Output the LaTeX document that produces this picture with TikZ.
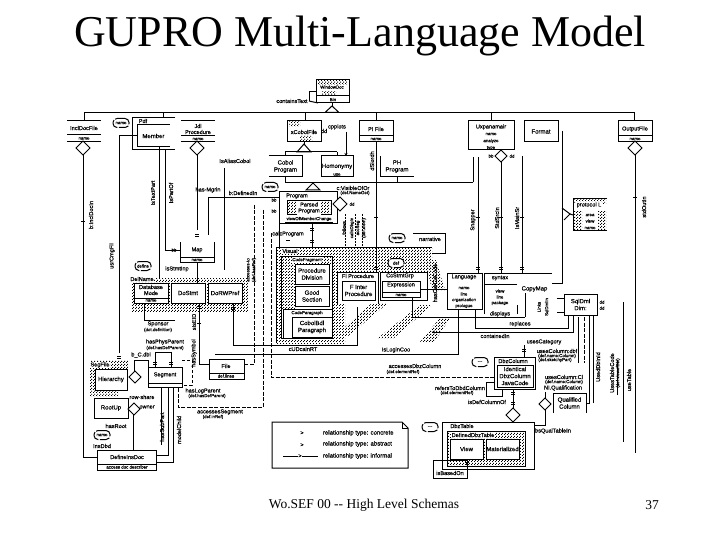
\documentclass[tikz,border=0pt]{standalone}
\usepackage{fontspec}
\setmainfont{Liberation Serif}
\newfontfamily\smallsans[FakeBold=0.35]{Liberation Sans}
\usetikzlibrary{arrows.meta,patterns,calc}
\pgfdeclarepatternformonly{stip}{\pgfpointorigin}{\pgfqpoint{3pt}{3pt}}{\pgfqpoint{3pt}{3pt}}{%
 \pgfpathrectangle{\pgfqpoint{0pt}{0pt}}{\pgfqpoint{1.1pt}{1.1pt}}%
 \pgfpathrectangle{\pgfqpoint{1.5pt}{1.5pt}}{\pgfqpoint{1.1pt}{1.1pt}}\pgfusepath{fill}}
\newcounter{lblc}
\tikzset{
 x=1pt,y=-1pt,
 boxst/.style={draw,line width=1pt,fill=white,inner sep=0pt,outer sep=0pt,align=center,font=\smallsans\fontsize{6}{7}\selectfont},
 txt/.style={inner sep=0pt,outer sep=0pt,align=center,font=\smallsans\fontsize{5.6}{6}\selectfont},
 tinytxt/.style={txt,font=\smallsans\fontsize{4.4}{5}\selectfont},
 conn/.style={line width=1pt},
 dashln/.style={line width=1pt,dash pattern=on 4pt off 1.5pt},
 tipped/.style={line width=1pt,-{Stealth[length=3pt,width=3pt]}},
 stipple/.style={pattern=stip,pattern color=black},
 blob/.style={draw,line width=1pt,fill=white,rounded corners=4pt,minimum width=16pt,minimum height=9pt,inner sep=0pt,outer sep=0pt,font=\smallsans\fontsize{4.4}{5}\selectfont,dash pattern=on 10pt off 1.5pt},
 dia/.style={line width=1pt,fill=white},
}
\newcommand\nbx[7][]{\node[boxst,minimum width={(#5-#3)*1pt},minimum height={(#6-#4)*1pt},#1] (#2) at ({(#3+#5)/2},{(#4+#6)/2}) {#7};}
\newcommand\lbl[3]{\stepcounter{lblc}\node[txt] (t\thelblc) at (#1,#2) {#3};}
\newcommand\tin[3]{\stepcounter{lblc}\node[tinytxt] (t\thelblc) at (#1,#2) {#3};}
\newcommand\rlb[3]{\stepcounter{lblc}\node[txt,rotate=90] (t\thelblc) at (#1,#2) {#3};}
\newcommand\rtn[3]{\stepcounter{lblc}\node[tinytxt,rotate=90] (t\thelblc) at (#1,#2) {#3};}
\newcommand\rowl[2]{\draw[conn] (#1.west |- 0,#2) -- (#1.east |- 0,#2);}
\newcommand\diam[3]{\draw[dia] (#1,#2-#3) -- (#1+#3,#2) -- (#1,#2+#3) -- (#1-#3,#2) -- cycle;}
\newcommand\trig[3]{\draw[dia] (#1,#2) -- (#1+7,#3) -- (#1-7,#3) -- cycle;}
\newcommand\tkh[2]{\draw[conn] (#1-2,#2) -- (#1+2,#2);}
\newcommand\dtk[2]{\draw[conn] (#1-2,#2-1) -- (#1+2,#2-1) (#1-2,#2+1) -- (#1+2,#2+1);}
\begin{document}
\begin{tikzpicture}
\useasboundingbox (0,0) rectangle (720,540);
\fill[white] (0,0) rectangle (720,540);
\node[inner sep=0pt,font=\fontsize{44}{48}\selectfont] (title) at (360,36) {GUPRO Multi-Language Model};
\node[inner sep=0pt,font=\fontsize{13.5}{15}\selectfont] (foot) at (364,505) {Wo.SEF 00 {-}{-} High Level Schemas};
\node[inner sep=0pt,font=\fontsize{13.5}{15}\selectfont] (page) at (652,505) {37};

% stipple areas
\fill[stipple] (132,278) rectangle (248,311);
\fill[stipple] (90,360) rectangle (128,390);
\fill[stipple] (90,390) rectangle (118,396);
\fill[stipple] (276,247) rectangle (345,343);
\fill[stipple] (345,247) rectangle (432,272);
\fill[stipple] (335,336) -- (348,336) -- (388,303) -- (372,303) -- cycle;
\fill[stipple] (378,338) -- (394,338) -- (432,305) -- (420,305) -- cycle;
\fill[stipple] (420,342) -- (434,342) -- (450,318) -- (440,318) -- cycle;
\fill[stipple] (425,260) -- (436,260) -- (445,290) -- (432,290) -- cycle;

% main bus
\coordinate (busL) at (84,112.5); \coordinate (busR) at (634,112.5);
\draw[conn] (busL) -- (busR);

% top box
\nbx{winbox}{316}{80}{349}{103}{}
\fill[stipple] (318,81) rectangle (347,85);
\fill[stipple] (322,92) rectangle (336,95);
\tin{332}{87}{WindowDoc}
\tin{333}{99.5}{Bin}
\rowl{winbox}{96}
\trig{332}{106}{112.5}
\draw[conn] (winbox.south) -- ++(0,3);
\lbl{292}{101}{containsText}
\coordinate (cta) at (309,101);
\coordinate (ctb) at (309,92);
\draw[conn] (cta) -- (ctb) -- (winbox.west |- ctb);
\draw[conn] (cta) -- (318,103);

% row of file boxes
\nbx[draw=none]{incl}{67}{121}{101}{142}{}
\lbl{84}{128}{InclDocFile}
\draw[conn] (incl.north west) -- (incl.north east) (incl.south west) -- (incl.south east);
\rowl{incl}{135}
\tin{84}{138.5}{name}
\draw[conn] (busL) -- (incl.north -| busL);
\diam{83}{148}{7}

\nbx[draw=none]{pdf}{132}{118}{175}{150}{}
\draw[conn] (pdf.north east) -- (pdf.north west) -- (pdf.south west) -- (pdf.south east);
\lbl{143}{121}{Pdf}
\nbx[draw=none]{member}{137}{125}{170}{147}{Member}
\draw[conn] (member.north east) -- (member.north west) -- (member.south west) -- (member.south east);
\coordinate (pdfbus) at (163,112.5);
\draw[conn] (pdfbus) -- (pdfbus |- pdf.north);
\node[blob] (pdfname) at (121,123) {name};

\nbx[draw=none]{jdl}{181}{121}{215}{142}{}
\lbl{198}{129}{Jdl\\Procedure}
\draw[conn] (jdl.north west) -- (jdl.north east) (jdl.south west) -- (jdl.south east);
\rowl{jdl}{136}
\tin{198}{139}{name}
\diam{197}{148}{7}

\nbx{cobf}{287}{121}{321}{142}{}
\fill[stipple] (289,122) rectangle (300,127);
\fill[stipple] (300,136) rectangle (312,141);
\lbl{304}{132}{xCobolFile}
\coordinate (cobbus) at (305,112.5);
\draw[conn] (cobbus) -- (cobf.north -| cobbus);
\trig{304}{144}{152}
\coordinate (b2l) at (285,152); \coordinate (b2r) at (337,152);
\draw[conn] (b2l) -- (b2r) (304,144) -- (304,142);
\draw[conn] (b2l) -- ++(0,4) (b2r) -- ++(0,4);
\nbx[draw=none]{cobprog}{269}{156}{302}{177}{Cobol\\Program}
\draw[conn] (cobprog.north west) -- (cobprog.north east) -- (cobprog.south east) -- (cobprog.south west);
\nbx[draw=none]{homon}{321}{156}{353}{177}{Homonymy}
\draw[conn] (homon.south west) -- (homon.north west) -- (homon.north east) -- (homon.south east);
\draw[conn] (homon.south west) -- (homon.south east);
\tin{337}{174.5}{use}
\lbl{337}{127}{cpplots}
\lbl{324}{131}{dd}
\coordinate (cpa) at (346,132);
\draw[tipped] (cpa) -- (cpa |- homon.north);

\nbx{pifile}{359}{121}{393}{142}{}
\lbl{376}{129}{PI File}
\rowl{pifile}{136}
\tin{376}{139}{name}
\coordinate (pibus) at (376,112.5);
\draw[conn] (pibus) -- (pibus |- pifile.north);
\rlb{372}{161}{dSlordh}

\nbx[draw=none]{piprog}{380}{156}{414}{177}{PH\\Program}
\draw[conn] (piprog.north west) -- (piprog.south west) -- (piprog.south east);

\nbx{lang}{468}{121}{514}{150}{}
\lbl{491}{127}{Uxpanamair}
\tin{491}{134}{name}
\tin{491}{141}{analyze}
\tin{491}{148}{type}
\coordinate (langbus) at (491,112.5);
\draw[conn] (langbus) -- (langbus |- lang.north);
\diam{501}{156}{6}
\tin{491}{156}{bb}\tin{512}{156}{dd}

\nbx{format}{524}{121}{558}{142}{Format}

\nbx{outf}{618}{121}{652}{142}{}
\lbl{635}{129}{OutputFile}
\rowl{outf}{136}
\tin{635}{139}{name}
\draw[conn] (busR) -- (outf.north -| busR);
\diam{635}{148}{7}

% second bus
\coordinate (b3l) at (285,182.5); \coordinate (b3r) at (473,182.5);
\draw[conn] (b3l) -- (b3r);
\draw[conn] (b3l) -- (285,177);
\draw[conn] (b3r) -- (473,157);
\draw[conn] (397,182.5) -- (397,177);
\trig{313}{183}{190}

% program
\nbx{prog}{279}{192}{337}{224}{}
\lbl{297}{196}{Program}
\nbx{parsed}{287}{201}{331}{215}{}
\fill[stipple] (288,202) rectangle (330,214);
\node[txt,fill=white,inner sep=1pt] (parsedt) at (309,208) {Parsed\\Program};
\tin{309}{219}{viewOfMemberChange}
\draw[conn] (285,223) -- (333,223);
\node[blob] (prname) at (270,187) {name};
\diam{340}{204}{7}
\tin{352}{204}{dd}
\lbl{353}{188}{c:VisibleOfOr}
\tin{355}{193}{(def.NameGet)}
\lbl{243}{193}{b:DefinedIn}
\lbl{235}{161}{IsAliasCobol}
\lbl{288}{234}{calcProgram}
\lbl{208}{190}{has-Mgrin}
\tin{274}{200}{bb}\tin{274}{211}{bb}

% visual
\draw[conn] (276,343) -- (276,247) -- (432,247);
\node[txt,fill=white,inner sep=.5pt] (vis) at (290,251) {Visual};
\draw[conn] (312,224) -- (312,247);
\dtk{312}{230}\dtk{312}{241}
\nbx{code}{281}{256}{332}{338}{}
\fill[stipple] (282,257) rectangle (331,264);
\fill[stipple] (282,264) rectangle (295,308);
\node[tinytxt,fill=white,inner sep=.5pt] (codet) at (307,260) {CodeFragment};
\nbx{procdiv}{295}{264}{329}{284}{Procedure\\Division}
\nbx{goodsec}{295}{286}{329}{306}{Good\\Section}
\nbx[fill=none]{codepar}{283}{309}{332}{338}{}
\tin{307}{313}{CodeParagraph}
\nbx{cobpar}{292}{317}{332}{337}{CobolBdl\\Paragraph}
\nbx[draw=none,fill=white]{flproc}{337}{272}{378}{304}{}
\draw[conn] (flproc.north west) -- (flproc.north east) -- (flproc.south east) (flproc.north west) -- (flproc.south west);
\lbl{358}{276}{Fl Procedure}
\nbx{fintern}{342}{281}{375}{300}{F Inter\\Procedure}
\nbx{ccgrp}{380}{272}{427}{300}{}
\lbl{400}{276}{CcStmtGrp}
\nbx{expr}{382}{281}{420}{297}{}
\lbl{401}{285}{Expression}
\rowl{expr}{292}
\tin{401}{295}{name}
\node[blob] (nm2) at (397,238) {name};
\node[blob] (nm3) at (396,263) {def};
\lbl{430}{239}{narrative}
\coordinate (narr) at (413,233);
\coordinate (narrE) at (445,233);
\coordinate (narrS) at (445,253);
\draw[conn] (narr) -- (narrE) -- (narrS) -- (432,253);
\rlb{435}{283}{hasCdrCoCode}
\draw[conn] (expr.east) -- (lang.west |- expr.east);
\coordinate (exS) at (412,317);
\draw[conn] (412,297) -- (exS) -- (525,317);

% language row
\nbx{lg1}{447}{273}{482}{309}{}
\lbl{464}{277}{Language}
\tin{464}{288}{name}
\tin{464}{294}{line}
\tin{464}{300}{organization}
\tin{464}{306}{prologue}
\nbx[draw=none]{lg2}{484}{273}{517}{314}{}
\draw[conn] (lg2.south west) -- (lg2.north west) -- (lg2.north east) -- (lg2.south east);
\lbl{500}{278}{syntax}
\rowl{lg2}{284}
\tin{500}{291}{view}
\tin{500}{297}{line}
\tin{500}{303}{package}
\nbx[draw=none]{cmap}{517}{273}{552}{305}{CopyMap}
\draw[conn] (cmap.north west) -- (cmap.north east);
\lbl{500}{314}{displays}
\draw[conn] (525,293) -- (525,317);

\nbx{sqld}{564}{294}{597}{315}{SqlDml\\Dim:}
\tin{602}{302}{dd}\tin{602}{308}{dd}
\draw[conn] (557,298) -- (sqld.west |- 0,298) (557,312) -- (sqld.west |- 0,312);
\rtn{539}{307}{Links}\rtn{547}{307}{SqlDmlIn}
\lbl{520}{324}{replaces}
\lbl{495}{336}{containedIn}
\coordinate (rA) at (475,328); \coordinate (rB) at (568,328);
\draw[conn] (lg1.south -| rA) -- (rA) -- (rB) -- (rB |- sqld.south);
\coordinate (cA) at (432,332); \coordinate (cB) at (573,332);
\draw[tipped] (cB |- sqld.south) -- (cB) -- (cA);

% long verticals
\draw[conn] (376,142) -- (376,273);
\draw[conn] (478,157) -- (478,273);
\draw[conn] (501,162) -- (501,273);
\draw[conn] (522,156) -- (522,273);
\foreach \xx in {376,478,501,522} {\dtk{\xx}{268}\tkh{\xx}{218}}
\rlb{473}{220}{Snapper}\rlb{497}{218}{StdSrcIn}\rlb{517}{218}{IsMainSr}
\draw[conn] (562,131) -- (562,283) -- (552,283);
\draw[conn] (635,155) -- (635,453);
\tkh{635}{198}
\rlb{644}{207}{stdOutIn}
\nbx[draw=none]{proto}{573}{199}{607}{231}{}
\draw[conn] (proto.north east) -- (proto.north west) -- (proto.south west) -- (proto.south east);
\fill[stipple] (574,200) rectangle (606,204);
\fill[stipple] (574,212) rectangle (582,230);
\fill[stipple] (598,212) rectangle (606,230);
\node[txt,fill=white,inner sep=.5pt] (pr1) at (589,205) {protocol L};
\tin{590}{215}{area}\tin{590}{221}{view}\tin{590}{228}{name}
\draw[conn] (562,208) -- (570,214) -- (564,220);
\draw[conn] (570,214) -- (proto.west);

% left long lines
\draw[conn] (83,155) -- (83,457) -- (97,457);
\tkh{83}{222}
\rlb{91}{215}{b:InclDocIn}
\draw[conn] (member.west |- 0,135.5) -- (119,135.5) -- (119,353);
\dtk{119}{357}
\rlb{112}{256}{usrCmgFil}
\draw[conn] (159,147) -- (159,278);
\draw[conn] (165,150) -- (165,250) -- (180,250);
\tin{174}{250}{bb}
\rlb{153}{193}{IsTextPart}\rlb{171}{193}{IsPartOf}
\draw[conn] (197,155) -- (197,230);
\dtk{197}{235}
\nbx[draw=none]{mapb}{180}{242}{214}{262}{}
\lbl{197}{250}{Map}
\draw[conn] (mapb.north west) -- (mapb.south west) -- (mapb.south east) -- (mapb.north east);
\rowl{mapb}{257}
\tin{197}{260}{name}
\draw[conn] (mapb.south) -- (197,283);
\draw[conn] (279,198) -- (208,198) -- (208,235);
\tkh{243}{198}
\draw[conn] (224,168) -- (224,270);
\draw[dashln] (254,205) -- (254,364) -- (244,364);
\draw[dashln] (263,210) -- (263,407) -- (178,407) -- (178,387);
\draw[dashln] (271,233) -- (271,377) -- (494,377);
\draw[conn] (279,224) -- (279,247);
\tkh{288}{240}
\rtn{248}{270}{accesses-to}\rtn{254}{270}{(def.hasRef)}

% rotated cluster right of program
\foreach \xx in {345,355,362} {\draw[conn,dash pattern=on 2pt off 1pt] (\xx,214) -- (\xx,247);}
\rtn{344}{228}{follows}\rtn{352}{228}{callsDbgIn}\rtn{358}{228}{accSeg}\rtn{364}{228}{(def.elem)}

% DoStmt row
\node[blob] (define) at (143,266) {define};
\lbl{177}{269}{isStmtInp}
\node[txt,fill=white,inner sep=.5pt] (delname) at (142,279) {DelName};
\nbx{dbm}{134}{283}{168}{303}{}
\lbl{151}{290}{Database\\Mode}
\rowl{dbm}{298}
\tin{151}{300.5}{name}
\nbx{dostmt}{171}{283}{205}{303}{DoStmt}
\nbx{dorw}{208}{283}{242}{303}{DoRWPref}
\coordinate (spE) at (175,320);
\draw[conn] (144,303) -- (144,320) -- (spE);
\lbl{158}{324}{Sponsor}
\tin{158}{330}{(dot.definition)}
\draw[conn] (199,303) -- (199,364) -- (209,364);
\tkh{199}{323}
\rlb{194}{322}{sIsEID}\rlb{194}{353}{hasSymbol}
\dtk{199}{307}
\draw[conn] (233,303) -- (233,345) -- (357,345) -- (357,307);
\dtk{233}{308}
\lbl{303}{349}{cUDcalnRT}
\draw[conn] (215,354) -- (458,354) -- (458,309);
\lbl{396}{350}{IsLoginCoo}
\nbx{filebox}{209}{359}{244}{379}{}
\lbl{226}{366}{File}
\rowl{filebox}{373}
\tin{226}{376}{def.lines}

% segment
\nbx{seg}{148}{367}{182}{387}{}
\lbl{165}{375}{Segment}
\rowl{seg}{383}
\lbl{165}{342}{hasPhysParent}
\tin{165}{348}{(def.hasDefParent)}
\draw[conn] (155,367) -- (155,352) -- (171,352) -- (171,367);
\dtk{155}{363}\dtk{171}{363}
\lbl{141}{355}{b\_C.dbl}
\draw[conn] (134,377) -- (134,360) -- (148,360) -- (148,367);
\draw[conn,densely dashed] (182,360) -- (192,360) -- (192,385) -- (183,385);
\lbl{203}{391}{hasLogParent}
\tin{207}{396}{(def.hasDefParent)}
\lbl{220}{412}{accessesSegment}
\tin{213}{417}{(def.inRef)}
\lbl{142}{397}{row-share}
\lbl{147}{407}{owner}

\node[txt,fill=white,inner sep=.5pt] (segf) at (100,365) {SegFile};
\nbx{hier}{95}{369}{127}{390}{Hierarchy}
\nbx{rootup}{94}{398}{128}{418}{RootUp}
\diam{135}{377}{6}\diam{134}{409}{6}
\draw[conn] (133,415) -- (133,450);
\lbl{116}{426}{hasRoot}
\node[blob] (rname) at (102,435) {name};
\lbl{102}{446}{InsDbd}
\nbx{defdoc}{97}{450}{156}{470}{}
\lbl{127}{457}{DefineInsDoc}
\rowl{defdoc}{464}
\tin{127}{467}{access doc describer}
\draw[conn] (156,455) -- (168,455) -- (168,387);
\draw[conn] (156,462) -- (173,462) -- (173,387);
\draw[conn] (161,445) -- (161,387);
\rlb{162}{427}{hasSubPart}\rlb{179}{430}{modelChild}

% legend
\nbx[draw=none]{legend}{272}{422}{408}{468}{}
\draw[conn,fill=white] (272,422) -- (402,422) -- (408,428) -- (408,468) -- (272,468) -- cycle;
\draw[conn] (402,422) -- (402,428) -- (408,428);
\coordinate (lg3a) at (283,456); \coordinate (lg3b) at (318,456);
\node[txt] (lt1) at (302,433) {>};
\node[txt] (lt2) at (302,445) {>};
\draw[conn] (lg3a) -- (lg3b);
\node[txt,fill=white,inner sep=.5pt] (lt3) at (300,456) {>};
\node[txt,anchor=west,font=\smallsans\fontsize{6}{7}\selectfont] (ll1) at (323,433) {relationship type: concrete};
\node[txt,anchor=west,font=\smallsans\fontsize{6}{7}\selectfont] (ll2) at (323,444) {relationship type: abstract};
\node[txt,anchor=west,font=\smallsans\fontsize{6}{7}\selectfont] (ll3) at (323,456) {relationship type: informal};

% DB column
\nbx{dbcol}{494}{357}{535}{389}{}
\lbl{513}{361}{DbzColumn}
\nbx{dbin}{497}{365}{533}{387}{Identical\\DbzColumn\\JavaCode}
\node[blob] (dbblob) at (480,362) {---};
\lbl{415}{366}{accessesDbzColumn}
\tin{403}{372}{(def.elementRef)}
\lbl{544}{342}{usesCategory}
\draw[conn] (524,345) -- (524,357);
\dtk{524}{350}
\lbl{557}{351}{usesColumn:dbf}
\tin{557}{356}{(def.name:Column)}
\tin{555}{360}{(def.sketchyPart)}
\lbl{564}{377}{usesColumn:Cl}
\tin{564}{382}{(def.name:Column)}
\lbl{563}{388}{NI.Qualification}
\lbl{460}{388}{refersToDbdColumn}
\tin{457}{393}{(def.elementRef)}
\draw[conn] (494,382) -- (486,382) -- (486,396) -- (502,396) -- (502,389);
\lbl{487}{402}{isDefColumnOf}
\diam{545}{404}{6}
\diam{513}{415}{7}
\draw[conn] (513,389) -- (513,408);
\dtk{513}{393}\dtk{513}{403}
\draw[conn] (545,392) -- (545,398);
\draw[conn] (545,410) -- (545,425) -- (534,425);
\nbx[draw=none]{qual}{553}{393}{586}{413}{Qualified\\Column}
\draw[conn] (qual.south west) -- (qual.north west) -- (qual.north east) -- (qual.south east);
\draw[conn] (578,317) -- (578,363);
\draw[dashln] (584,317) -- (584,363);
\draw[conn] (589,315) -- (589,403) -- (586,403);
\draw[conn] (593,315) -- (593,403);
\rlb{598}{367}{UsedDbInId}
\draw[conn] (623,302) -- (623,442);
\draw[conn] (617,360) -- (617,395);
\rlb{612}{373}{UsesTableCode}
\rtn{618}{373}{(def.viewofDbl)}
\rlb{629}{380}{useTable}

% DB table
\nbx{dbtab}{442}{422}{534}{469}{}
\lbl{462}{426}{DbzTable}
\node[blob] (dbtblob) at (430,427) {---};
\lbl{553}{431}{bsQualTableIn}
\nbx{defdb}{447}{431}{525}{466}{}
\fill[stipple] (448,432) rectangle (524,465);
\node[txt,fill=white,inner sep=.5pt] (defdbt) at (473,435) {DefinedDbzTable};
\nbx{vw}{450}{439}{483}{459}{View}
\nbx{matv}{486}{439}{519}{459}{Materialized}
\nbx[fill=none]{based}{433}{460}{467}{478}{}
\lbl{450}{473}{isBasedOn}
\dtk{467}{463}
\end{tikzpicture}
\end{document}
